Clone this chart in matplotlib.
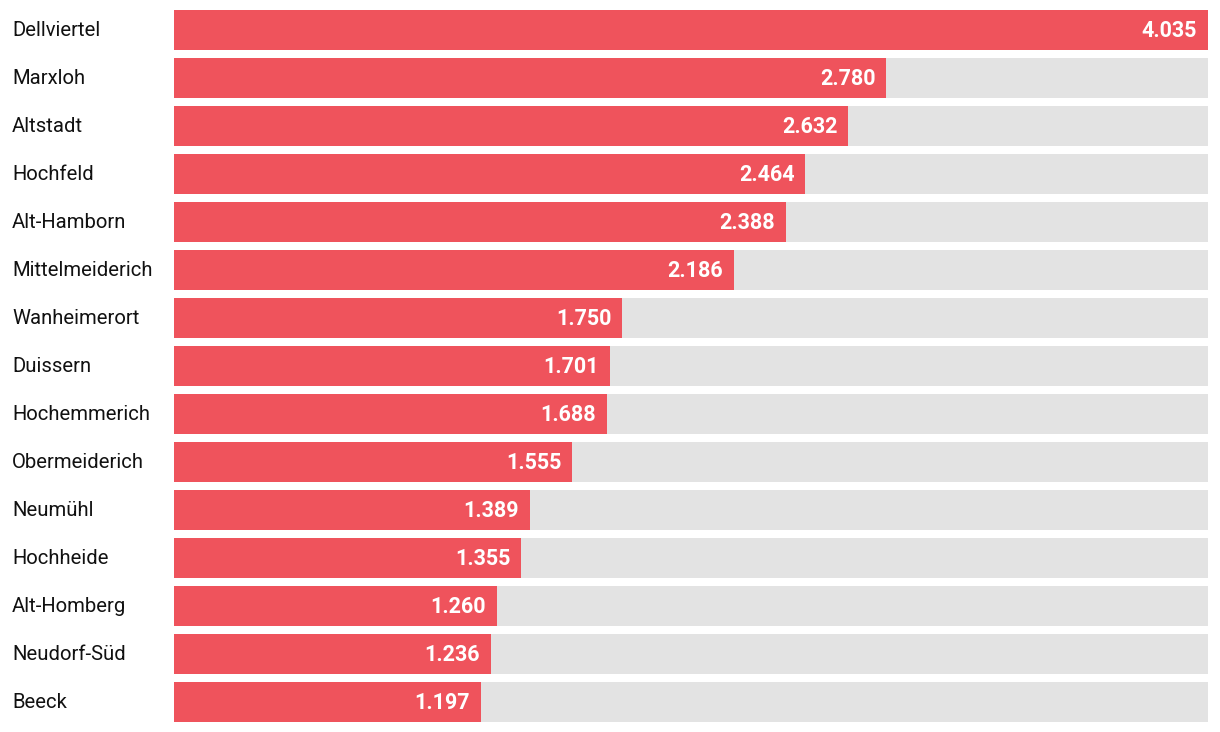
import matplotlib
matplotlib.use("Agg")
import matplotlib.pyplot as plt
from matplotlib.transforms import offset_copy

districts = ["Dellviertel", "Marxloh", "Altstadt", "Hochfeld", "Alt-Hamborn",
             "Mittelmeiderich", "Wanheimerort", "Duissern", "Hochemmerich",
             "Obermeiderich", "Neumühl", "Hochheide", "Alt-Homberg",
             "Neudorf-Süd", "Beeck"]
values = [4035, 2780, 2632, 2464, 2388, 2186, 1750, 1701, 1688, 1555,
          1389, 1355, 1260, 1236, 1197]
value_labels = ["4.035", "2.780", "2.632", "2.464", "2.388", "2.186", "1.750",
                "1.701", "1.688", "1.555", "1.389", "1.355", "1.260", "1.236",
                "1.197"]

W, H = 1220, 732
fig = plt.figure(figsize=(W / 100, H / 100), dpi=100)
ax = fig.add_axes([174 / W, 10 / H, (1208 - 174) / W, 712 / H])

red = "#EF535C"
gray = "#E3E3E3"
n = len(districts)
ys = list(range(n))
h = 40 / 48
vmax = max(values)

ax.barh(ys, [vmax] * n, height=h, color=gray, linewidth=0)
ax.barh(ys, values, height=h, color=red, linewidth=0)
ax.set_xlim(0, vmax)
ax.set_ylim(n - 1 + h / 2, -h / 2)
ax.axis("off")

val_tr = offset_copy(ax.transData, fig=fig, x=-11, y=-1, units="dots")
for y, v, lab in zip(ys, values, value_labels):
    ax.text(v, y, lab, transform=val_tr, ha="right", va="center",
            color="white", fontsize=15.5, fontweight="bold", family="Roboto")

lab_tr = offset_copy(
    matplotlib.transforms.blended_transform_factory(fig.transFigure, ax.transData),
    fig=fig, x=0, y=-1, units="dots")
for y, name in zip(ys, districts):
    ax.text(12 / W, y, name, transform=lab_tr, ha="left", va="center",
            color="#111111", fontsize=14.6, family="Roboto")

fig.savefig("out.png", dpi=100)
